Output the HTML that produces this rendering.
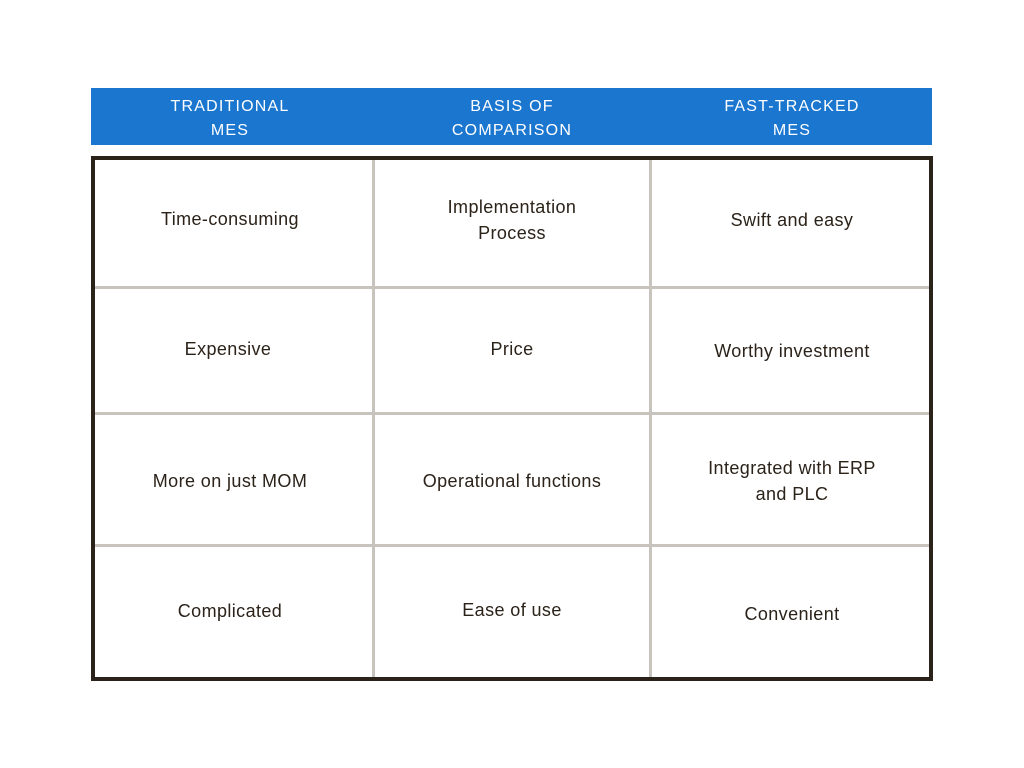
<!DOCTYPE html>
<html><head><meta charset="utf-8"><style>
body{margin:0;width:1024px;height:768px;background:#fff;position:relative;font-family:"Liberation Sans",sans-serif;overflow:hidden}
.h{position:absolute;top:88px;left:91px;width:841px;height:57px;background:#1b76cf}
.ht{position:absolute;top:95px;width:200px;text-align:center;color:#fff;font-size:16px;letter-spacing:1.2px;line-height:24px}
.t{position:absolute;left:91px;top:156px;width:834px;height:517px;border:4px solid #2b2219}
.v{position:absolute;width:3px;background:#c9c3bd;top:160px;height:517px}
.r{position:absolute;height:3px;background:#c9c3bd;left:95px;width:834px}
.c{position:absolute;width:260px;text-align:center;color:#2b2219;font-size:18px;letter-spacing:0.4px;line-height:26px}
</style></head><body>
<div class="h"></div>
<div class="ht" style="left:130px">TRADITIONAL<br>MES</div>
<div class="ht" style="left:412px">BASIS OF<br>COMPARISON</div>
<div class="ht" style="left:692px">FAST-TRACKED<br>MES</div>
<div class="t"></div>
<div class="v" style="left:372px"></div>
<div class="v" style="left:649px"></div>
<div class="r" style="top:286px"></div>
<div class="r" style="top:412px"></div>
<div class="r" style="top:544px"></div>

<div class="c" style="left:100px;top:206px">Time-consuming</div>
<div class="c" style="left:382px;top:194px">Implementation<br>Process</div>
<div class="c" style="left:662px;top:207px">Swift and easy</div>

<div class="c" style="left:98px;top:336px">Expensive</div>
<div class="c" style="left:382px;top:336px">Price</div>
<div class="c" style="left:662px;top:338px">Worthy investment</div>

<div class="c" style="left:100px;top:468px">More on just MOM</div>
<div class="c" style="left:382px;top:468px">Operational functions</div>
<div class="c" style="left:662px;top:455px">Integrated with ERP<br>and PLC</div>

<div class="c" style="left:100px;top:598px">Complicated</div>
<div class="c" style="left:382px;top:597px">Ease of use</div>
<div class="c" style="left:662px;top:601px">Convenient</div>
</body></html>
